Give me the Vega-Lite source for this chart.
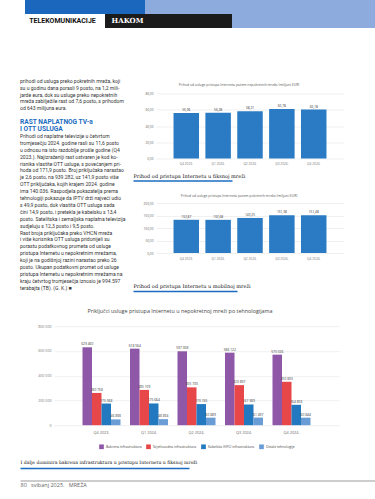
{
  "$schema": "https://vega.github.io/schema/vega-lite/v6.json",
  "padding": {"left": 20, "top": 0, "right": 0, "bottom": 0},
  "background": "white",
  "config": {
    "view": {"stroke": null},
    "font": "Open Sans",
    "locale": {"number": {"decimal": ",", "thousands": " ", "grouping": [3], "currency": ["", " €"]}},
    "axis": {"domain": false, "ticks": false, "labelColor": "#666", "gridColor": "#e6e6e6", "gridWidth": 0.6},
    "title": {"color": "#555", "fontWeight": "normal"},
    "legend": {"layout": {"bottom": {"anchor": "middle"}}}
  },
  "resolve": {"legend": {"color": "independent"}, "scale": {"color": "independent"}},
  "spacing": 50.7,
  "vconcat": [
    {
      "spacing": 0,
      "vconcat": [
        {
          "spacing": 0,
          "hconcat": [
            {"width": 5, "height": 14, "data": {"values": [{}]}, "mark": {"type": "text", "fontSize": 0.1}, "encoding": {"text": {"value": ""}}},
            {"width": 120, "height": 14, "view": {"fill": "#1a67bd", "stroke": null}, "data": {"values": [{}]}, "mark": {"type": "text", "fontSize": 0.1}, "encoding": {"text": {"value": ""}}},
            {"width": 230, "height": 14, "view": {"fill": "#8dabdd", "stroke": null}, "data": {"values": [{}]}, "mark": {"type": "text", "fontSize": 0.1}, "encoding": {"text": {"value": ""}}}
          ]
        },
        {
          "spacing": 0,
          "hconcat": [
            {"width": 85, "height": 14, "data": {"values": [{"t": "TELEKOMUNIKACIJE"}]}, "mark": {"type": "text", "font": "Roboto", "fontWeight": "bold", "fontSize": 7, "color": "#111"}, "encoding": {"text": {"field": "t"}}},
            {"width": 45, "height": 14, "view": {"fill": "#1b1b1b", "stroke": null}, "data": {"values": [{"t": "HAKOM"}]}, "mark": {"type": "text", "font": "DejaVu Serif", "fontWeight": "bold", "fontSize": 7, "color": "#ffffff"}, "encoding": {"text": {"field": "t"}}},
            {"width": 82, "height": 14, "view": {"fill": "#1b1b1b", "stroke": null}, "data": {"values": [{}]}, "mark": {"type": "text", "fontSize": 0.1}, "encoding": {"text": {"value": ""}}},
            {"width": 143, "height": 14, "view": {"fill": "#8dabdd", "stroke": null}, "data": {"values": [{}]}, "mark": {"type": "text", "fontSize": 0.1}, "encoding": {"text": {"value": ""}}}
          ]
        }
      ]
    },
    {
      "spacing": 16.5,
      "resolve": {"legend": {"color": "independent"}, "scale": {"color": "independent"}},
      "vconcat": [
        {
          "spacing": 5,
          "hconcat": [
            {
              "width": 108,
              "height": 207,
              "data": {"values": [
                {"line": 0, "kind": "body", "t": "prihodi od usluga preko pokretnih mreža, koji"},
                {"line": 1, "kind": "body", "t": "su u godinu dana porasli 9 posto, na 1,2 mili-"},
                {"line": 2, "kind": "body", "t": "jarde eura, dok su usluge preko nepokretnih"},
                {"line": 3, "kind": "body", "t": "mreža zabilježile rast od 7,6 posto, s prihodom"},
                {"line": 4, "kind": "body", "t": "od 643 milijuna eura."},
                {"line": 6, "kind": "head", "t": "RAST NAPLATNOG TV-a"},
                {"line": 7, "kind": "head", "t": "I OTT USLUGA"},
                {"line": 8, "kind": "body", "t": "\u00a0\u00a0Prihodi od naplatne televizije u četvrtom"},
                {"line": 9, "kind": "body", "t": "tromjesečju 2024. godine rasli su 11,6 posto"},
                {"line": 10, "kind": "body", "t": "u odnosu na isto razdoblje prošle godine (Q4"},
                {"line": 11, "kind": "body", "t": "2023.). Najizraženiji rast ostvaren je kod ko-"},
                {"line": 12, "kind": "body", "t": "risnika vlastite OTT usluge, s povećanjem pri-"},
                {"line": 13, "kind": "body", "t": "hoda od 171,9 posto. Broj priključaka narastao"},
                {"line": 14, "kind": "body", "t": "je 2,6 posto, na 939.282, uz 141,9 posto više"},
                {"line": 15, "kind": "body", "t": "OTT priključaka, kojih krajem 2024. godine"},
                {"line": 16, "kind": "body", "t": "ima 140.036. Raspodjela pokazatelja prema"},
                {"line": 17, "kind": "body", "t": "tehnologiji pokazuje da IPTV drži najveći udio"},
                {"line": 18, "kind": "body", "t": "s 49,9 posto, dok vlastita OTT usluga sada"},
                {"line": 19, "kind": "body", "t": "čini 14,9 posto, i pretekla je kabelsku s 13,4"},
                {"line": 20, "kind": "body", "t": "posto. Satelitska i zemaljska naplatna televizija"},
                {"line": 21, "kind": "body", "t": "sudjeluju s 12,3 posto i 9,5 posto."},
                {"line": 22, "kind": "body", "t": "\u00a0\u00a0Rast broja priključaka preko VHCN mreža"},
                {"line": 23, "kind": "body", "t": "i više korisnika OTT usluga pridonijeli su"},
                {"line": 24, "kind": "body", "t": "porastu podatkovnog prometa od usluge"},
                {"line": 25, "kind": "body", "t": "pristupa Internetu u nepokretnim mrežama,"},
                {"line": 26, "kind": "body", "t": "koji je na godišnjoj razini narastao preko 26"},
                {"line": 27, "kind": "body", "t": "posto. Ukupan podatkovni promet od usluge"},
                {"line": 28, "kind": "body", "t": "pristupa Internetu u nepokretnim mrežama na"},
                {"line": 29, "kind": "body", "t": "kraju četvrtog tromjesečja iznosio je 994.597"},
                {"line": 30, "kind": "body", "t": "terabajta (TB). (G. K.) ■"}
              ]},
              "encoding": {
                "y": {"field": "line", "type": "quantitative", "scale": {"domain": [0, 30], "reverse": true, "nice": false, "zero": false}, "axis": null},
                "x": {"value": 0},
                "text": {"field": "t"}
              },
              "layer": [
                {"transform": [{"filter": "datum.kind == 'body'"}], "mark": {"type": "text", "align": "left", "baseline": "middle", "font": "Roboto", "fontSize": 5.05, "color": "#333", "limit": 108}},
                {"transform": [{"filter": "datum.kind == 'head'"}], "mark": {"type": "text", "align": "left", "baseline": "middle", "font": "Roboto", "fontWeight": "bold", "fontSize": 6.6, "color": "#1b6cc0", "limit": 108}}
              ]
            },
            {
              "spacing": 0.8,
              "vconcat": [
                {"width": 1, "height": 0.5, "data": {"values": [{}]}, "mark": {"type": "text", "fontSize": 0.1}, "encoding": {"text": {"value": ""}}},
                {
                  "spacing": 11.5,
                  "vconcat": [
                    {
                      "spacing": 7,
                      "vconcat": [
                        {
                          "spacing": 0,
                          "hconcat": [
                            {"width": 0.5, "height": 0.5, "data": {"values": [{}]}, "mark": {"type": "text", "fontSize": 0.1}, "encoding": {"text": {"value": ""}}},
                            {
                              "width": 188,
                              "height": 65,
                              "title": {"text": "Prihod od usluge pristupa Internetu putem nepokretnih mreža (milijuni EUR)", "fontSize": 3.4, "offset": 5, "frame": "bounds", "anchor": "middle"},
                              "data": {"values": [
                                {"q": "Q4 2023.", "v": 55.96},
                                {"q": "Q1 2024.", "v": 56.28},
                                {"q": "Q2 2024.", "v": 58.21},
                                {"q": "Q3 2024.", "v": 60.78},
                                {"q": "Q4 2024.", "v": 60.18}
                              ]},
                              "encoding": {
                                "x": {"field": "q", "type": "nominal", "sort": null, "scale": {"paddingInner": 0.2, "paddingOuter": 0.55}, "axis": {"title": null, "labelAngle": 0, "labelFontSize": 3.2, "labelPadding": 3, "labelColor": "#777"}},
                                "y": {"field": "v", "type": "quantitative", "scale": {"domain": [0, 80]}, "axis": {"title": null, "values": [0, 20, 40, 60, 80], "format": ".2f", "labelFontSize": 3.2, "minExtent": 22, "labelPadding": 3}}
                              },
                              "layer": [
                                {"mark": {"type": "bar", "color": "#2a7bc3"}},
                                {"mark": {"type": "text", "dy": -3, "fontSize": 3.2, "color": "#333"}, "encoding": {"text": {"field": "v", "format": ".2f"}}}
                              ]
                            }
                          ]
                        },
                        {
                          "width": 99,
                          "height": 0.5,
                          "data": {"values": [{"v": 0}]},
                          "mark": {"type": "text", "fontSize": 0.1},
                          "encoding": {
                            "x": {"field": "v", "type": "quantitative", "scale": {"domain": [0, 1]}, "axis": {"orient": "top", "labels": false, "ticks": false, "grid": false, "domain": true, "domainColor": "#1b6cc0", "domainWidth": 1.6, "title": "Prihod od pristupa Internetu u fiksnoj mreži", "titleAnchor": "start", "titleFont": "DejaVu Serif", "titleFontSize": 5, "titleFontWeight": "normal", "titleColor": "#111", "titlePadding": 2.5}},
                            "text": {"value": ""}
                          }
                        }
                      ]
                    },
                    {
                      "spacing": 23,
                      "vconcat": [
                        {
                          "spacing": 0,
                          "hconcat": [
                            {"width": 0.5, "height": 0.5, "data": {"values": [{}]}, "mark": {"type": "text", "fontSize": 0.1}, "encoding": {"text": {"value": ""}}},
                            {
                              "width": 188,
                              "height": 50,
                              "title": {"text": "Prihod od usluge pristupa Internetu putem pokretnih mreža (milijuni EUR)", "fontSize": 3.4, "offset": 4, "frame": "bounds", "anchor": "middle"},
                              "data": {"values": [
                                {"q": "Q4 2023.", "v": 132.87},
                                {"q": "Q1 2024.", "v": 132.68},
                                {"q": "Q2 2024.", "v": 140.25},
                                {"q": "Q3 2024.", "v": 151.38},
                                {"q": "Q4 2024.", "v": 151.48}
                              ]},
                              "encoding": {
                                "x": {"field": "q", "type": "nominal", "sort": null, "scale": {"paddingInner": 0.2, "paddingOuter": 0.55}, "axis": {"title": null, "labelAngle": 0, "labelFontSize": 3.2, "labelPadding": 3, "labelColor": "#777"}},
                                "y": {"field": "v", "type": "quantitative", "scale": {"domain": [0, 200]}, "axis": {"title": null, "values": [0, 50, 100, 150, 200], "format": ".2f", "labelFontSize": 3.2, "minExtent": 22, "labelPadding": 3}}
                              },
                              "layer": [
                                {"mark": {"type": "bar", "color": "#2a7bc3"}},
                                {"mark": {"type": "text", "dy": -3, "fontSize": 3.2, "color": "#333"}, "encoding": {"text": {"field": "v", "format": ".2f"}}}
                              ]
                            }
                          ]
                        },
                        {
                          "width": 104,
                          "height": 0.5,
                          "data": {"values": [{"v": 0}]},
                          "mark": {"type": "text", "fontSize": 0.1},
                          "encoding": {
                            "x": {"field": "v", "type": "quantitative", "scale": {"domain": [0, 1]}, "axis": {"orient": "top", "labels": false, "ticks": false, "grid": false, "domain": true, "domainColor": "#1b6cc0", "domainWidth": 1.6, "title": "Prihod od pristupa Internetu u mobilnoj mreži", "titleAnchor": "start", "titleFont": "DejaVu Serif", "titleFontSize": 5, "titleFontWeight": "normal", "titleColor": "#111", "titlePadding": 2.5}},
                            "text": {"value": ""}
                          }
                        }
                      ]
                    }
                  ]
                }
              ]
            }
          ]
        },
        {
          "spacing": 9.8,
          "resolve": {"legend": {"color": "independent"}, "scale": {"color": "independent"}},
          "vconcat": [
            {
              "spacing": 0,
              "resolve": {"legend": {"color": "independent"}, "scale": {"color": "independent"}},
              "hconcat": [
                {"width": 0.5, "height": 0.5, "data": {"values": [{}]}, "mark": {"type": "text", "fontSize": 0.1}, "encoding": {"text": {"value": ""}}},
                {
                  "width": 285,
                  "height": 99,
                  "title": {"text": "Priključci usluge pristupa Internetu u nepokretnoj mreži po tehnologijama", "fontSize": 5.4, "color": "#444", "offset": 9.7, "frame": "bounds", "anchor": "middle"},
                  "data": {"values": [
                    {"q": "Q4 2023.", "tech": "Bakrena infrastruktura", "v": 629460},
                    {"q": "Q4 2023.", "tech": "Svjetlovodna infrastruktura", "v": 260758},
                    {"q": "Q4 2023.", "tech": "Kabelska (HFC) infrastruktura", "v": 175068},
                    {"q": "Q4 2023.", "tech": "Ostale tehnologije", "v": 46898},
                    {"q": "Q1 2024.", "tech": "Bakrena infrastruktura", "v": 618564},
                    {"q": "Q1 2024.", "tech": "Svjetlovodna infrastruktura", "v": 285109},
                    {"q": "Q1 2024.", "tech": "Kabelska (HFC) infrastruktura", "v": 175664},
                    {"q": "Q1 2024.", "tech": "Ostale tehnologije", "v": 48894},
                    {"q": "Q2 2024.", "tech": "Bakrena infrastruktura", "v": 597308},
                    {"q": "Q2 2024.", "tech": "Svjetlovodna infrastruktura", "v": 305730},
                    {"q": "Q2 2024.", "tech": "Kabelska (HFC) infrastruktura", "v": 170745},
                    {"q": "Q2 2024.", "tech": "Ostale tehnologije", "v": 60889},
                    {"q": "Q3 2024.", "tech": "Bakrena infrastruktura", "v": 586122},
                    {"q": "Q3 2024.", "tech": "Svjetlovodna infrastruktura", "v": 323897},
                    {"q": "Q3 2024.", "tech": "Kabelska (HFC) infrastruktura", "v": 167389},
                    {"q": "Q3 2024.", "tech": "Ostale tehnologije", "v": 61497},
                    {"q": "Q4 2024.", "tech": "Bakrena infrastruktura", "v": 570026},
                    {"q": "Q4 2024.", "tech": "Svjetlovodna infrastruktura", "v": 350800},
                    {"q": "Q4 2024.", "tech": "Kabelska (HFC) infrastruktura", "v": 164803},
                    {"q": "Q4 2024.", "tech": "Ostale tehnologije", "v": 60844}
                  ]},
                  "encoding": {
                    "x": {"field": "q", "type": "nominal", "sort": null, "scale": {"paddingInner": 0.2, "paddingOuter": 0.6}, "axis": {"title": null, "labelAngle": 0, "labelFontSize": 3.8, "labelPadding": 5, "labelColor": "#666"}},
                    "xOffset": {"field": "tech", "type": "nominal", "sort": ["Bakrena infrastruktura", "Svjetlovodna infrastruktura", "Kabelska (HFC) infrastruktura", "Ostale tehnologije"], "scale": {"paddingInner": 0, "paddingOuter": 0}},
                    "y": {"field": "v", "type": "quantitative", "scale": {"domain": [0, 800000]}, "axis": {"title": null, "values": [0, 200000, 400000, 600000, 800000], "format": ",d", "labelFontSize": 3.6, "labelColor": "#777", "minExtent": 33, "labelPadding": 3}}
                  },
                  "layer": [
                    {
                      "mark": {"type": "bar"},
                      "encoding": {
                        "color": {"field": "tech", "type": "nominal", "sort": ["Bakrena infrastruktura", "Svjetlovodna infrastruktura", "Kabelska (HFC) infrastruktura", "Ostale tehnologije"], "scale": {"domain": ["Bakrena infrastruktura", "Svjetlovodna infrastruktura", "Kabelska (HFC) infrastruktura", "Ostale tehnologije"], "range": ["#8e57a8", "#e8474a", "#2379c0", "#6a9dd6"]}, "legend": {"orient": "bottom", "direction": "horizontal", "title": null, "symbolType": "square", "symbolSize": 22, "symbolStrokeWidth": 0, "labelFontSize": 3.4, "labelColor": "#444", "labelOffset": 2, "columnPadding": 4, "offset": 10}}
                      }
                    },
                    {"mark": {"type": "text", "dy": -3, "fontSize": 3.3, "color": "#333"}, "encoding": {"text": {"field": "v", "format": ",d"}}}
                  ]
                }
              ]
            },
            {
              "spacing": 11,
              "vconcat": [
                {
                  "width": 169,
                  "height": 0.5,
                  "data": {"values": [{"v": 0}]},
                  "mark": {"type": "text", "fontSize": 0.1},
                  "encoding": {
                    "x": {"field": "v", "type": "quantitative", "scale": {"domain": [0, 1]}, "axis": {"orient": "top", "labels": false, "ticks": false, "grid": false, "domain": true, "domainColor": "#1b6cc0", "domainWidth": 1.6, "title": "I dalje dominira bakrena infrastruktura u pristupu Internetu u fiksnoj mreži", "titleAnchor": "start", "titleFont": "DejaVu Serif", "titleFontSize": 4.6, "titleFontWeight": "normal", "titleColor": "#111", "titlePadding": 3.5}},
                    "text": {"value": ""}
                  }
                },
                {
                  "width": 355,
                  "height": 0.5,
                  "data": {"values": [{"v": 0}]},
                  "mark": {"type": "text", "fontSize": 0.1},
                  "encoding": {
                    "x": {"field": "v", "type": "quantitative", "scale": {"domain": [0, 1]}, "axis": {"orient": "bottom", "labels": false, "ticks": false, "grid": false, "domain": true, "domainColor": "#bdbdbd", "domainWidth": 1.6, "title": "80\u00a0\u00a0\u00a0svibanj 2025.\u00a0\u00a0\u00a0MREŽA", "titleAnchor": "start", "titleFont": "Open Sans", "titleFontSize": 5.5, "titleFontWeight": "normal", "titleColor": "#666", "titlePadding": 2.2}},
                    "text": {"value": ""}
                  }
                }
              ]
            }
          ]
        }
      ]
    }
  ]
}
